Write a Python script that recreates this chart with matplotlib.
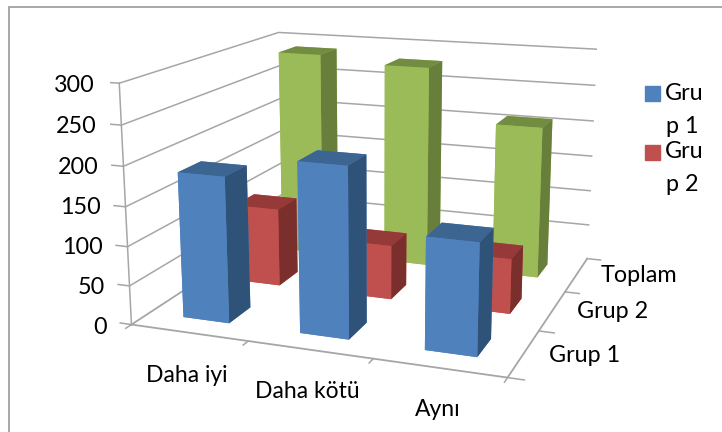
import matplotlib
matplotlib.use('Agg')
import numpy as np
import matplotlib.pyplot as plt
from matplotlib.patches import Rectangle

plt.rcParams['font.family'] = ['Lato', 'DejaVu Sans']

categories = ['Daha iyi', 'Daha kötü', 'Aynı']
series = ['Grup 1', 'Grup 2', 'Toplam']
grup1 = [186, 213, 138]
grup2 = [105, 72, 72]
toplam = [288, 279, 208]
z_ticks = [0, 50, 100, 150, 200, 250, 300]

# bottom, top, front, back, left, right
face_colors = [
    ('#4F81BD', '#3C6591', '#2F5279'),
    ('#C0504D', '#953A38', '#7B2F2D'),
    ('#9BBB59', '#728C42', '#687F3B'),
]
grid_color = '#A6A6A6'

fig = plt.figure(figsize=(7.22, 4.32), dpi=100)
ax = fig.add_axes([-0.05 + 8.2 / 722, -0.05 + 7.86 / 432, 1.1, 1.2], projection='3d', computed_zorder=False)
ax.set_proj_type('persp', focal_length=0.46)
ax.view_init(elev=14.5, azim=-69.9)
ax.set_box_aspect((3, 2.857, 1.898), zoom=1.041)
ax.set_axis_off()
ax.set_xlim(0, 3)
ax.set_ylim(0, 3)
ax.set_zlim(0, 300)

order = 0
for z in z_ticks[1:]:
    ax.plot([0, 0, 3], [0, 3, 3], [z, z, z], color=grid_color, lw=1.1, zorder=order)
ax.plot([0, 0], [0, 0], [0, 300], color=grid_color, lw=1.1, zorder=order)
ax.plot([0, 0, 3, 3], [3, 0, 0, 3], [0, 0, 0, 0], color=grid_color, lw=1.3, zorder=order)
for i in range(4):
    ax.plot([i, i], [0, -0.09], [0, 0], color=grid_color, lw=1.1, zorder=order)
    ax.plot([3, 3.12], [i, i], [0, 0], color=grid_color, lw=1.1, zorder=order)
for z in z_ticks:
    ax.plot([0, -0.1], [0, 0], [z, z], color=grid_color, lw=1.1, zorder=order)

# back row first, so the front bars cover it
rows = [grup1, grup2, toplam]
order = 1
for j in [2, 1, 0]:
    for i in range(3):
        cols = face_colors[j]
        ax.bar3d(i + 0.3, j + 0.3, 0, 0.4, 0.4, rows[j][i], shade=False,
                 color=[cols[0], cols[1], cols[0], cols[0], cols[0], cols[2]],
                 edgecolor='none', zorder=order)
        order += 1

# labels placed in figure pixels
def label(x, y, s, size=16.8, ha='left'):
    fig.text(x / 722, 1 - y / 432, s, fontsize=size, ha=ha, va='center', color='black')

for v, y, x in zip(z_ticks, [327, 288, 248, 207, 167, 126, 85], [107, 105, 103, 101, 99, 97, 95]):
    label(x, y, str(v), ha='right')
for s, x, y in zip(categories, [146, 255, 415], [376, 392, 409]):
    label(x, y, s, size=16.5)
for s, x, y in zip(series, [549, 577, 601], [355, 311, 276]):
    label(x, y, s, size=16.8)

# legend with the wrapped text of the original
for n, y in enumerate([93, 152]):
    fig.patches.append(Rectangle((645 / 722, 1 - (y + 8) / 432), 15 / 722, 15 / 432,
                                 transform=fig.transFigure, color=face_colors[n][0]))
    label(665, y, 'Gru')
    label(666, y + 33, 'p ' + str(n + 1))

# chart border
fig.patches.append(Rectangle((9 / 722, -0.01), 1.1, 1 - 7 / 432 + 0.01, transform=fig.transFigure,
                             fill=False, edgecolor='#A0A0A0', lw=1.3))

fig.savefig('out.png', dpi=100)
